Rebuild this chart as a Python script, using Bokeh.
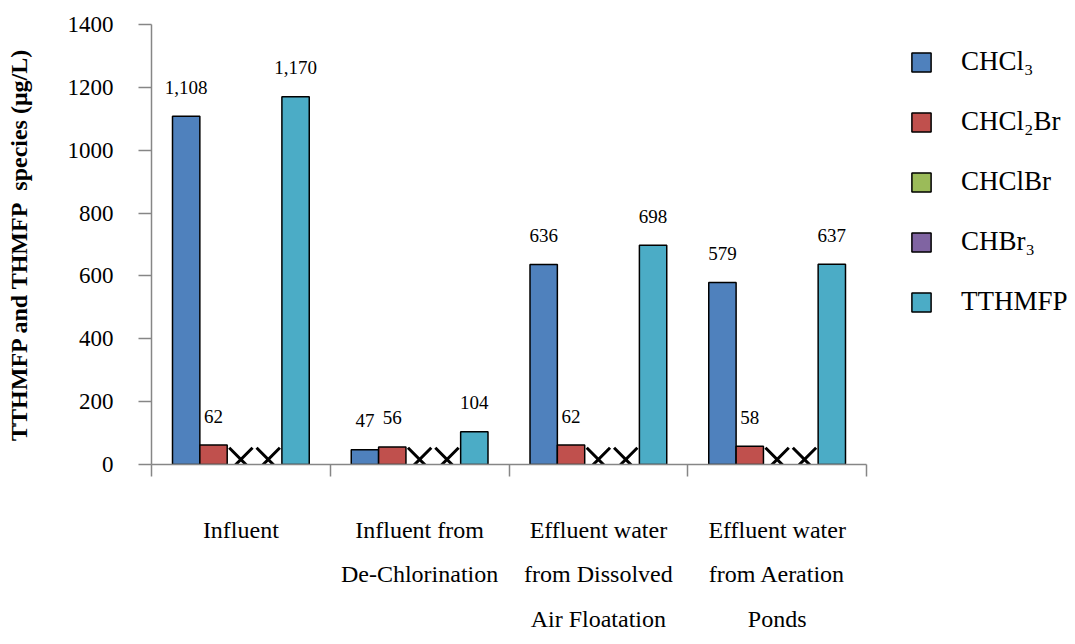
from bokeh.plotting import figure
from bokeh.models import (Range1d, FixedTicker, Legend, LegendItem, ColumnDataSource)
from bokeh.transform import dodge
from bokeh.core.properties import value
from bokeh.embed import file_html
from bokeh.resources import INLINE

# ---- data ----
categories = ["Influent", "Influent from\nDe-Chlorination",
              "Effluent water\nfrom Dissolved\nAir Floatation",
              "Effluent water\nfrom Aeration\nPonds"]
series_names = ["CHCl\u2083", "CHCl\u2082Br", "CHClBr", "CHBr\u2083", "TTHMFP"]
chcl3 = [1108, 47, 636, 579]
chcl2br = [62, 56, 62, 58]
chclbr = [0, 0, 0, 0]      # not detected (X)
chbr3 = [0, 0, 0, 0]       # not detected (X)
tthmfp = [1170, 104, 698, 637]
colors = ["#4F81BD", "#C0504D", "#9BBB59", "#8064A2", "#4BACC6"]

FONT = "Liberation Serif"
AX = "#868686"

W, H = 1075, 644
LEFT = 151
n_cat = len(categories)
# the category axis occupies 715 px; the remaining frame width holds the legend
x_end = n_cat * (W - LEFT) / 715.0

p = figure(width=W, height=H, output_backend="svg", toolbar_location=None,
           x_range=Range1d(0, x_end), y_range=Range1d(0, 1400),
           min_border_left=LEFT, min_border_right=0, min_border_top=24,
           min_border_bottom=180)
p.outline_line_color = None
p.grid.grid_line_color = None
p.background_fill_color = "white"

centers = [i + 0.5 for i in range(n_cat)]
bw = 0.153
offsets = [-2 * bw, -bw, 0, bw, 2 * bw]

src = ColumnDataSource(dict(x=centers, chcl3=chcl3, chcl2br=chcl2br, chclbr=chclbr,
                            chbr3=chbr3, tthmfp=tthmfp,
                            l1=[format(v, ",") for v in chcl3],
                            l2=[format(v, ",") for v in chcl2br],
                            l5=[format(v, ",") for v in tthmfp]))
fields = ["chcl3", "chcl2br", "chclbr", "chbr3", "tthmfp"]
renderers = []
for k, f in enumerate(fields):
    r = p.vbar(x=dodge("x", offsets[k], range=p.x_range), top=f, bottom=0, width=bw,
               source=src, fill_color=colors[k], line_color="black", line_width=1.5)
    if f in ("chclbr", "chbr3"):
        r.visible = False
    renderers.append(r)

# X markers for non-detected species
for k, f in enumerate(fields):
    if f in ("chclbr", "chbr3"):
        p.scatter(x=dodge("x", offsets[k], range=p.x_range),
                  y=dodge(f, 16, range=p.y_range), source=src, marker="x",
                  size=33, line_color="black", line_width=3)

# data labels
for k, lab in [(0, "l1"), (1, "l2"), (4, "l5")]:
    p.text(x=dodge("x", offsets[k], range=p.x_range), y=fields[k], text=lab, source=src,
           y_offset=-29, text_align="center", text_baseline="middle",
           text_font=value(FONT), text_font_size="19px", text_color="black")

# axes
xa = p.xaxis[0]
xa.bounds = (0, n_cat)
xa.ticker = FixedTicker(ticks=centers, minor_ticks=list(range(n_cat + 1)))
xa.major_label_overrides = {c: n for c, n in zip(centers, categories)}
xa.major_tick_out = 0
xa.major_tick_in = 0
xa.minor_tick_out = 12
xa.minor_tick_in = 0
xa.minor_tick_line_color = AX
xa.axis_line_color = AX
xa.axis_line_width = 1.5
xa.minor_tick_line_width = 1.5
xa.major_label_text_font = FONT
xa.major_label_text_font_size = "24px"
xa.major_label_text_color = "black"
xa.major_label_text_line_height = 1.73
xa.major_label_standoff = 40

ya = p.yaxis[0]
ya.ticker = FixedTicker(ticks=list(range(0, 1401, 200)))
ya.minor_tick_line_color = None
ya.major_tick_out = 13
ya.major_tick_in = 0
ya.major_tick_line_color = AX
ya.major_tick_line_width = 1.5
ya.axis_line_color = AX
ya.axis_line_width = 1.5
ya.major_label_text_font = FONT
ya.major_label_text_font_size = "23px"
ya.major_label_text_color = "black"
ya.major_label_standoff = 25
ya.axis_label = "TTHMFP and THMFP\u00a0 species (\u03bcg/L)"
ya.axis_label_text_font = FONT
ya.axis_label_text_font_style = "bold"
ya.axis_label_text_font_size = "24px"
ya.axis_label_text_color = "black"
ya.axis_label_standoff = 33

legend = Legend(items=[LegendItem(label=n, renderers=[r]) for n, r in zip(series_names, renderers)],
                location=(758, 147), padding=0, margin=0, spacing=29,
                glyph_width=24, glyph_height=24, label_height=24, label_standoff=28,
                label_text_font=FONT, label_text_font_size="27px",
                label_text_color="black",
                border_line_alpha=0, background_fill_alpha=0,
                inactive_fill_alpha=0)
p.add_layout(legend, "center")

open("out.html", "w").write(file_html(p, INLINE))
